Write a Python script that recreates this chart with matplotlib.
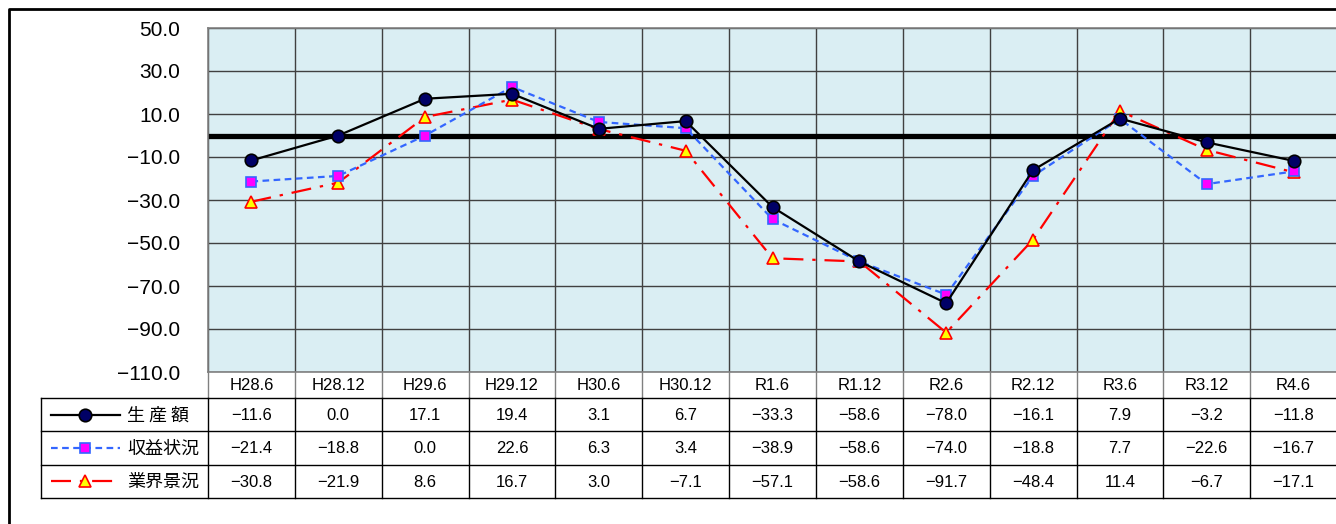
import matplotlib
matplotlib.use("Agg")
import matplotlib.pyplot as plt
from matplotlib.lines import Line2D

plt.rcParams['font.family'] = ['Noto Sans CJK JP', 'DejaVu Sans']

categories = ["H28.6", "H28.12", "H29.6", "H29.12", "H30.6", "H30.12", "R1.6",
              "R1.12", "R2.6", "R2.12", "R3.6", "R3.12", "R4.6"]
production = [-11.6, 0.0, 17.1, 19.4, 3.1, 6.7, -33.3, -58.6, -78.0, -16.1, 7.9, -3.2, -11.8]
profit = [-21.4, -18.8, 0.0, 22.6, 6.3, 3.4, -38.9, -58.6, -74.0, -18.8, 7.7, -22.6, -16.7]
industry = [-30.8, -21.9, 8.6, 16.7, 3.0, -7.1, -57.1, -58.6, -91.7, -48.4, 11.4, -6.7, -17.1]
series_names = ["生 産 額", "収益状況", "業界景況"]
yticks = [50, 30, 10, -10, -30, -50, -70, -90, -110]

W, H = 1336, 524
fig = plt.figure(figsize=(W / 100, H / 100), dpi=100)
fig.patch.set_facecolor("white")

colw = 86.85
px0, px1 = 208, 208 + 13 * colw
py_top, py_bot = 28, 372


def fx(p):
    return p / W


def fy(p):
    return 1 - p / H


ax = fig.add_axes([fx(px0), fy(py_bot), fx(px1 - px0), (py_bot - py_top) / H])
ax.set_facecolor("#DAEEF3")
n = len(categories)
xs = list(range(n))
ax.set_xlim(-0.5, n - 0.5)
ax.set_ylim(-110, 50)
ax.set_yticks(yticks)
ax.set_yticklabels([f"{v:.1f}".replace("-", "−") for v in yticks], fontsize=15,
                   family=['Liberation Sans', 'DejaVu Sans'])
ax.tick_params(axis='y', length=0, pad=20)
ax.set_xticks([])
for v in yticks:
    ax.axhline(v, color="#404040", lw=1.0, zorder=1)
for i in range(n + 1):
    ax.axvline(i - 0.5, color="#404040", lw=1.0, zorder=1)
ax.axhline(0, color="black", lw=3.8, zorder=2)
for s in ax.spines.values():
    s.set_color("#808080")
    s.set_linewidth(1.2)

style_prod = dict(color="black", lw=1.6, marker="o", markersize=9,
                  markerfacecolor="#000066", markeredgecolor="black", markeredgewidth=1.2)
style_prof = dict(color="#3366FF", lw=1.6, dashes=(3, 2), marker="s", markersize=7.5,
                  markerfacecolor="#FF00FF", markeredgecolor="#3366FF", markeredgewidth=1.2)
style_ind = dict(color="#FF0000", lw=1.6, dashes=(9, 4, 1.5, 4), marker="^", markersize=8.5,
                 markerfacecolor="#FFFF00", markeredgecolor="#FF0000", markeredgewidth=1.2)
ax.plot(xs, industry, zorder=3, **style_ind)
ax.plot(xs, profit, zorder=4, **style_prof)
ax.plot(xs, production, zorder=5, **style_prod)

# Data table
tl = 41
t_top = 372
rows_y = [372, 398, 431, 464.5, 498]
tax = fig.add_axes([fx(tl), fy(rows_y[-1]), fx(px1 - tl), (rows_y[-1] - t_top) / H])
tax.set_xlim(-0.5 - (px0 - tl) / colw, n - 0.5)
tax.set_ylim(rows_y[-1], t_top)
tax.axis("off")
xl = -0.5 - (px0 - tl) / colw
for i in range(n + 1):
    tax.plot([i - 0.5, i - 0.5], [rows_y[0], rows_y[1]], color="#808080", lw=1.0, clip_on=False)
for r in range(1, 5):
    tax.plot([xl, n - 0.5], [rows_y[r], rows_y[r]], color="black", lw=1.0, clip_on=False)
tax.plot([xl, xl], [rows_y[1], rows_y[4]], color="black", lw=1.0, clip_on=False)
for i in range(n + 1):
    tax.plot([i - 0.5, i - 0.5], [rows_y[1], rows_y[4]], color="black", lw=1.0, clip_on=False)

tfont = dict(fontsize=12, family=['Liberation Sans', 'DejaVu Sans'], ha="center", va="center")
for i, c in enumerate(categories):
    tax.text(i, (rows_y[0] + rows_y[1]) / 2 + 1, c, **tfont)
for r, vals in enumerate([production, profit, industry]):
    yc = (rows_y[r + 1] + rows_y[r + 2]) / 2 + 1
    for i, v in enumerate(vals):
        tax.text(i, yc, f"{v:.1f}".replace("-", "−"), **tfont)

styles = [style_prod, style_prof, style_ind]
for r, (name, st) in enumerate(zip(series_names, styles)):
    yc = (rows_y[r + 1] + rows_y[r + 2]) / 2
    x0 = xl + (51 - tl) / colw
    x1 = xl + (120 - tl) / colw
    xm = xl + (85 - tl) / colw
    line_st = {k: v for k, v in st.items() if not k.startswith("marker")}
    tax.plot([x0, x1], [yc, yc], clip_on=False, **line_st)
    mk = {k: v for k, v in st.items() if k.startswith("marker")}
    tax.plot([xm], [yc], linestyle="none", clip_on=False, **mk)
    tax.text(xl + (127 - tl) / colw, yc + 1, name, fontsize=13, ha="left", va="center",
             family=['Noto Sans CJK JP', 'DejaVu Sans'])

fig.add_artist(Line2D([fx(9), fx(9), fx(1340)], [fy(530), fy(8.5), fy(8.5)],
                      color="black", lw=2.0, transform=fig.transFigure))

fig.savefig("out.png", dpi=100)
